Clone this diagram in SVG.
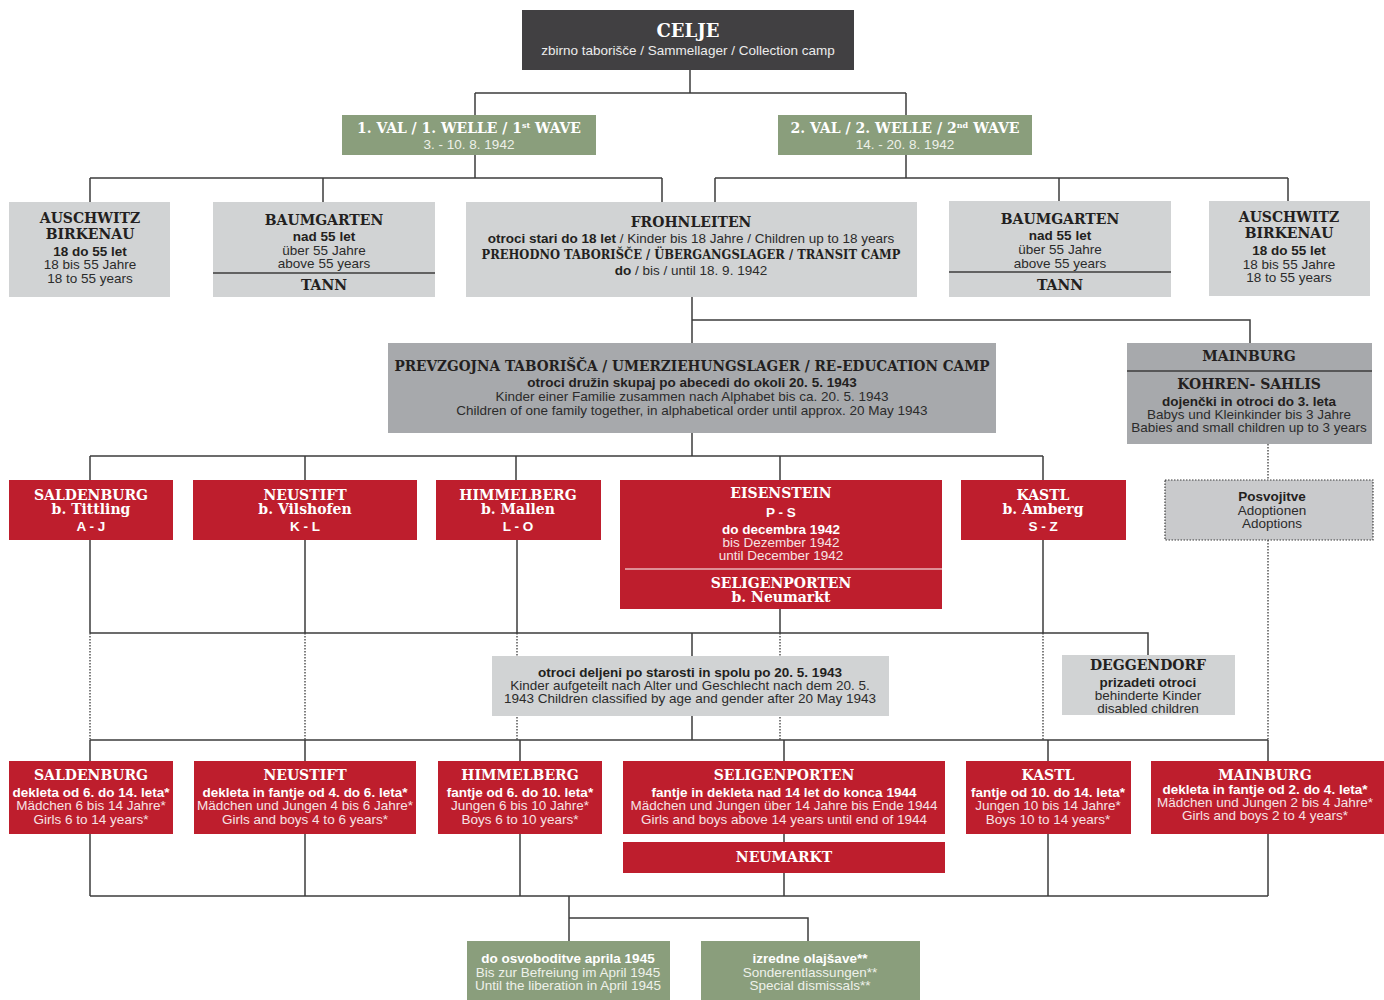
<svg xmlns="http://www.w3.org/2000/svg" width="1384" height="1000" viewBox="0 0 1384 1000">
<style>
.hd{font-family:"DejaVu Serif","Liberation Serif",serif;font-weight:bold;font-size:14px;text-anchor:middle}
.tx{font-family:"Liberation Sans",Arial,sans-serif;font-size:13.5px;text-anchor:middle}
.b{font-weight:bold}
.w{fill:#ffffff}
.wl{fill:#f6e3e5}
.gl{fill:#eef1ea}
.k{fill:#231f20}
.kl{fill:#2b2b2b}
.dark{fill:#414042}
.green{fill:#8a9e7c}
.lg{fill:#d1d3d4}
.mg{fill:#a7a9ac}
.red{fill:#be1e2d}
.ln{fill:none;stroke:#3c3c3c;stroke-width:1.5}
.dot{fill:none;stroke:#3c3c3c;stroke-width:1.3;stroke-dasharray:1.5 1.5}
.sep{stroke:#3c3c3c;stroke-width:1.5}
</style>
<rect width="1384" height="1000" fill="#ffffff"/>
<g id="connectors">
<path class="ln" d="M690 70V93M475 93H906M475 93V115M906 93V115"/>
<path class="ln" d="M475 155V178M90 178H662M90 178V202M323 178V202M662 178V202"/>
<path class="ln" d="M906 155V178M715 178H1288M715 178V202M1059 178V201M1288 178V201"/>
<path class="ln" d="M692 297V343M692 320H1250V343"/>
<path class="ln" d="M692 433V456M90 456H1043M90 456V480M305 456V480M516 456V480M780 456V480M1043 456V480"/>
<path class="ln" d="M90 540V633M305 540V633M517 540V633M780 609V633M1043 540V633M90 633H1148V655M692 633V656M692 716V740"/>
<path class="ln" d="M90 740H1268M90 740V761M305 740V761M520 740V761M784 740V761M1048 740V761M1268 740V761"/>
<path class="ln" d="M784 834V842M90 834V896M305 834V896M520 834V896M784 873V896M1048 834V896M1268 834V896M90 896H1268"/>
<path class="ln" d="M569 896V941M569 918H808V941"/>
<path class="dot" d="M1268 444V480M1268 540V740M90 633V740M305 633V740M517 633V740M780 633V740M1043 633V740"/>
</g>
<g id="celje">
<rect class="dark" x="522" y="10" width="332" height="60"/>
<text class="hd w" x="688" y="37" style="font-size:18px">CELJE</text>
<text class="tx" x="688" y="55" fill="#ececec">zbirno taborišče / Sammellager / Collection camp</text>
</g>
<g id="wave1">
<rect class="green" x="342" y="115" width="254" height="40"/>
<text class="hd w" x="469" y="133" textLength="224" lengthAdjust="spacingAndGlyphs">1. VAL / 1. WELLE / 1<tspan style="font-size:8px" dy="-5">st</tspan><tspan dy="5"> WAVE</tspan></text>
<text class="tx gl" x="469" y="149">3. - 10. 8. 1942</text>
</g>
<g id="wave2">
<rect class="green" x="778" y="115" width="254" height="40"/>
<text class="hd w" x="905" y="133" textLength="229" lengthAdjust="spacingAndGlyphs">2. VAL / 2. WELLE / 2<tspan style="font-size:8px" dy="-5">nd</tspan><tspan dy="5"> WAVE</tspan></text>
<text class="tx gl" x="905" y="149">14. - 20. 8. 1942</text>
</g>
<g id="auschwitz1">
<rect class="lg" x="9" y="202" width="161" height="95"/>
<text class="hd k" x="90" y="223">AUSCHWITZ</text>
<text class="hd k" x="90" y="239">BIRKENAU</text>
<text class="tx k b" x="90" y="256">18 do 55 let</text>
<text class="tx kl" x="90" y="269">18 bis 55 Jahre</text>
<text class="tx kl" x="90" y="283">18 to 55 years</text>
</g>
<g id="baumgarten1">
<rect class="lg" x="213" y="202" width="222" height="95"/>
<text class="hd k" x="324" y="225">BAUMGARTEN</text>
<text class="tx k b" x="324" y="241">nad 55 let</text>
<text class="tx kl" x="324" y="255">über 55 Jahre</text>
<text class="tx kl" x="324" y="268">above 55 years</text>
<line class="sep" x1="213" y1="273" x2="435" y2="273"/>
<text class="hd k" x="324" y="290">TANN</text>
</g>
<g id="frohnleiten">
<rect class="lg" x="466" y="202" width="451" height="95"/>
<text class="hd k" x="691" y="227">FROHNLEITEN</text>
<text class="tx kl" x="691" y="243"><tspan class="b k">otroci stari do 18 let</tspan> / Kinder bis 18 Jahre / Children up to 18 years</text>
<text class="hd k" x="691" y="259" style="font-size:13px" textLength="419" lengthAdjust="spacingAndGlyphs">PREHODNO TABORIŠČE / ÜBERGANGSLAGER / TRANSIT CAMP</text>
<text class="tx kl" x="691" y="275"><tspan class="b k">do</tspan> / bis / until 18. 9. 1942</text>
</g>
<g id="baumgarten2">
<rect class="lg" x="949" y="201" width="222" height="96"/>
<text class="hd k" x="1060" y="224">BAUMGARTEN</text>
<text class="tx k b" x="1060" y="240">nad 55 let</text>
<text class="tx kl" x="1060" y="254">über 55 Jahre</text>
<text class="tx kl" x="1060" y="268">above 55 years</text>
<line class="sep" x1="949" y1="272" x2="1171" y2="272"/>
<text class="hd k" x="1060" y="290">TANN</text>
</g>
<g id="auschwitz2">
<rect class="lg" x="1209" y="201" width="161" height="95"/>
<text class="hd k" x="1289" y="222">AUSCHWITZ</text>
<text class="hd k" x="1289" y="238">BIRKENAU</text>
<text class="tx k b" x="1289" y="255">18 do 55 let</text>
<text class="tx kl" x="1289" y="269">18 bis 55 Jahre</text>
<text class="tx kl" x="1289" y="282">18 to 55 years</text>
</g>
<g id="prevzgojna">
<rect class="mg" x="388" y="343" width="608" height="90"/>
<text class="hd k" x="692" y="371" textLength="595" lengthAdjust="spacingAndGlyphs">PREVZGOJNA TABORIŠČA / UMERZIEHUNGSLAGER / RE-EDUCATION CAMP</text>
<text class="tx k b" x="692" y="387">otroci družin skupaj po abecedi do okoli 20. 5. 1943</text>
<text class="tx kl" x="692" y="401">Kinder einer Familie zusammen nach Alphabet bis ca. 20. 5. 1943</text>
<text class="tx kl" x="692" y="415">Children of one family together, in alphabetical order until approx. 20 May 1943</text>
</g>
<g id="mainburg-kohren">
<rect class="mg" x="1127" y="343" width="245" height="101"/>
<text class="hd k" x="1249" y="361">MAINBURG</text>
<line class="sep" x1="1127" y1="371" x2="1372" y2="371"/>
<text class="hd k" x="1249" y="389">KOHREN- SAHLIS</text>
<text class="tx k b" x="1249" y="406">dojenčki in otroci do 3. leta</text>
<text class="tx kl" x="1249" y="419">Babys und Kleinkinder bis 3 Jahre</text>
<text class="tx kl" x="1249" y="432">Babies and small children up to 3 years</text>
</g>
<g id="posvojitve">
<rect x="1165" y="480" width="208" height="60" fill="#c9cacc" stroke="#3c3c3c" stroke-width="1.2" stroke-dasharray="1.5 1.5"/>
<text class="tx k b" x="1272" y="501">Posvojitve</text>
<text class="tx kl" x="1272" y="515">Adoptionen</text>
<text class="tx kl" x="1272" y="528">Adoptions</text>
</g>
<g id="saldenburg1">
<rect class="red" x="9" y="480" width="164" height="60"/>
<text class="hd w" x="91" y="500">SALDENBURG</text>
<text class="hd w" x="91" y="514">b. Tittling</text>
<text class="tx w b" x="91" y="531">A - J</text>
</g>
<g id="neustift1">
<rect class="red" x="193" y="480" width="224" height="60"/>
<text class="hd w" x="305" y="500">NEUSTIFT</text>
<text class="hd w" x="305" y="514">b. Vilshofen</text>
<text class="tx w b" x="305" y="531">K - L</text>
</g>
<g id="himmelberg1">
<rect class="red" x="436" y="480" width="165" height="60"/>
<text class="hd w" x="518" y="500">HIMMELBERG</text>
<text class="hd w" x="518" y="514">b. Mallen</text>
<text class="tx w b" x="518" y="531">L - O</text>
</g>
<g id="eisenstein">
<rect class="red" x="620" y="480" width="322" height="129"/>
<text class="hd w" x="781" y="498">EISENSTEIN</text>
<text class="tx w b" x="781" y="517">P - S</text>
<text class="tx w b" x="781" y="534">do decembra 1942</text>
<text class="tx wl" x="781" y="547">bis Dezember 1942</text>
<text class="tx wl" x="781" y="560">until December 1942</text>
<line x1="625" y1="569" x2="942" y2="569" stroke="#ffffff" stroke-width="1"/>
<text class="hd w" x="781" y="588">SELIGENPORTEN</text>
<text class="hd w" x="781" y="602">b. Neumarkt</text>
</g>
<g id="kastl1">
<rect class="red" x="961" y="480" width="165" height="60"/>
<text class="hd w" x="1043" y="500">KASTL</text>
<text class="hd w" x="1043" y="514">b. Amberg</text>
<text class="tx w b" x="1043" y="531">S - Z</text>
</g>
<g id="deljeni">
<rect class="lg" x="492" y="656" width="397" height="60"/>
<text class="tx k b" x="690" y="677">otroci deljeni po starosti in spolu po 20. 5. 1943</text>
<text class="tx kl" x="690" y="690">Kinder aufgeteilt nach Alter und Geschlecht nach dem 20. 5.</text>
<text class="tx kl" x="690" y="703">1943 Children classified by age and gender after 20 May 1943</text>
</g>
<g id="deggendorf">
<rect class="lg" x="1062" y="655" width="173" height="60"/>
<text class="hd k" x="1148" y="670">DEGGENDORF</text>
<text class="tx k b" x="1148" y="687">prizadeti otroci</text>
<text class="tx kl" x="1148" y="700">behinderte Kinder</text>
<text class="tx kl" x="1148" y="713">disabled children</text>
</g>
<g id="saldenburg2">
<rect class="red" x="9" y="761" width="164" height="73"/>
<text class="hd w" x="91" y="780">SALDENBURG</text>
<text class="tx w b" x="91" y="797">dekleta od 6. do 14. leta*</text>
<text class="tx wl" x="91" y="810">Mädchen 6 bis 14 Jahre*</text>
<text class="tx wl" x="91" y="824">Girls 6 to 14 years*</text>
</g>
<g id="neustift2">
<rect class="red" x="194" y="761" width="222" height="73"/>
<text class="hd w" x="305" y="780">NEUSTIFT</text>
<text class="tx w b" x="305" y="797">dekleta in fantje od 4. do 6. leta*</text>
<text class="tx wl" x="305" y="810">Mädchen und Jungen 4 bis 6 Jahre*</text>
<text class="tx wl" x="305" y="824">Girls and boys 4 to 6 years*</text>
</g>
<g id="himmelberg2">
<rect class="red" x="438" y="761" width="164" height="73"/>
<text class="hd w" x="520" y="780">HIMMELBERG</text>
<text class="tx w b" x="520" y="797">fantje od 6. do 10. leta*</text>
<text class="tx wl" x="520" y="810">Jungen 6 bis 10 Jahre*</text>
<text class="tx wl" x="520" y="824">Boys 6 to 10 years*</text>
</g>
<g id="seligenporten2">
<rect class="red" x="623" y="761" width="322" height="73"/>
<text class="hd w" x="784" y="780">SELIGENPORTEN</text>
<text class="tx w b" x="784" y="797">fantje in dekleta nad 14 let do konca 1944</text>
<text class="tx wl" x="784" y="810">Mädchen und Jungen über 14 Jahre bis Ende 1944</text>
<text class="tx wl" x="784" y="824">Girls and boys above 14 years until end of 1944</text>
</g>
<g id="neumarkt">
<rect class="red" x="623" y="842" width="322" height="31"/>
<text class="hd w" x="784" y="862">NEUMARKT</text>
</g>
<g id="kastl2">
<rect class="red" x="966" y="761" width="165" height="73"/>
<text class="hd w" x="1048" y="780">KASTL</text>
<text class="tx w b" x="1048" y="797">fantje od 10. do 14. leta*</text>
<text class="tx wl" x="1048" y="810">Jungen 10 bis 14 Jahre*</text>
<text class="tx wl" x="1048" y="824">Boys 10 to 14 years*</text>
</g>
<g id="mainburg2">
<rect class="red" x="1151" y="761" width="233" height="73"/>
<text class="hd w" x="1265" y="780">MAINBURG</text>
<text class="tx w b" x="1265" y="794">dekleta in fantje od 2. do 4. leta*</text>
<text class="tx wl" x="1265" y="807">Mädchen und Jungen 2 bis 4 Jahre*</text>
<text class="tx wl" x="1265" y="820">Girls and boys 2 to 4 years*</text>
</g>
<g id="osvoboditev">
<rect class="green" x="467" y="941" width="203" height="59"/>
<text class="tx w b" x="568" y="963">do osvoboditve aprila 1945</text>
<text class="tx gl" x="568" y="977">Bis zur Befreiung im April 1945</text>
<text class="tx gl" x="568" y="990">Until the liberation in April 1945</text>
</g>
<g id="olajsave">
<rect class="green" x="701" y="941" width="219" height="59"/>
<text class="tx w b" x="810" y="963">izredne olajšave**</text>
<text class="tx gl" x="810" y="977">Sonderentlassungen**</text>
<text class="tx gl" x="810" y="990">Special dismissals**</text>
</g>
</svg>
